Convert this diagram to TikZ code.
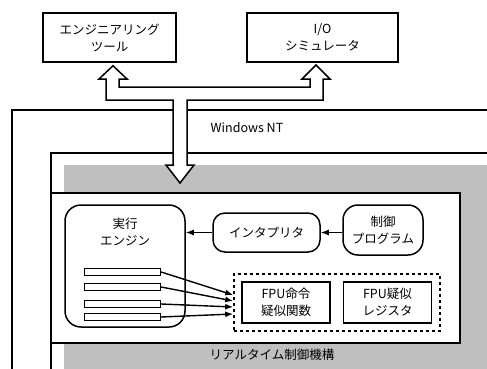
\documentclass[tikz,border=0pt]{standalone}
\usepackage{fontspec}
\setmainfont{Noto Sans CJK JP}
\usetikzlibrary{shapes,arrows.meta,positioning,calc}

\begin{document}
\begin{tikzpicture}[
    x=1pt, y=-1pt,
    jp/.style={font=\fontsize{12.5}{17}\selectfont},
    tool/.style={rectangle, draw, line width=1.5pt, align=center, jp},
    module/.style={rectangle, draw, line width=1.5pt, rounded corners=12pt, align=center, jp},
    fpu/.style={rectangle, draw, line width=1.5pt, minimum width=88pt, minimum height=41pt, align=center, jp},
    bar/.style={rectangle, draw, line width=1.3pt, fill=white, minimum width=76pt, minimum height=7pt, inner sep=0pt},
    frame/.style={draw, line width=1.3pt},
    shade/.style={fill=gray!50},
    arrow/.style={-{Latex[length=8pt,width=6pt]}, line width=1.4pt}
]
\useasboundingbox (0,0) rectangle (487,369);
\clip (0,0) rectangle (487,369);

% Tools on top
\node[tool, minimum width=133pt, minimum height=49pt] (eng) at (109.5,37.5) {エンジニアリング\\ツール};
\node[tool, minimum width=151pt, minimum height=49pt] (iosim) at (322.5,37.5) {I/O\\シミュレータ};

% Windows NT
\draw[frame] (12,110) rectangle (500,390);
\node[jp] (winnt) at (247,128) {Windows NT};

% Realtime control
\draw[frame] (51,153) rectangle (500,390);
\fill[shade] (64,165) rectangle (500,390);
\draw[frame, fill=white] (51,193) rectangle (460,343);
\node[jp] (rtlabel) at (272,355) {リアルタイム制御機構};

% Modules
\node[module, minimum width=120pt, minimum height=122pt, rounded corners=16pt] (exec) at (125,266) {};
\node[jp, align=center] (execname) at (125,232) {実行\\エンジン};
\node[module, minimum width=107pt, minimum height=39pt] (interp) at (266.5,232.5) {インタプリタ};
\node[module, minimum width=80pt, minimum height=50pt, rounded corners=15pt] (prog) at (383,230) {制御\\プログラム};

% FPU
\node[rectangle, draw, dashed, line width=1.6pt, minimum width=206pt, minimum height=57pt] (fpuset) at (337,302.5) {};
\node[fpu] (fpufunc) at (286,302.5) {FPU命令\\疑似関数};
\node[fpu] (fpureg) at (387.5,302.5) {FPU疑似\\レジスタ};

% Arrows
\draw[arrow] (prog.west |- interp.east) -- (interp.east);
\draw[arrow] (interp.west) -- (exec.east |- interp.west);

\foreach \i/\y/\t in {1/272/-7.5, 2/287/-1.5, 3/304/4.5, 4/317/11.5} {
    \node[bar] (bar\i) at (122.5,\y) {};
    \draw[arrow] (bar\i.east) -- ($(fpuset.west)+(0,\t)$);
}

% Double arrow
\draw[line width=1.5pt, fill=white, line join=miter]
    (eng.south -| 113,0) ++(0,3) coordinate (tipl)
    -- (127,79) -- (119,79) -- (119,87) -- (310,87) -- (310,79) -- (302,79)
    -- (316,65) -- (330,79) -- (323,79) -- (323,100) -- (187,100) -- (187,165)
    -- (194,165) -- (180,183) -- (166,165) -- (173,165) -- (173,100)
    -- (106,100) -- (106,79) -- (99,79) -- cycle;

\end{tikzpicture}
\end{document}
